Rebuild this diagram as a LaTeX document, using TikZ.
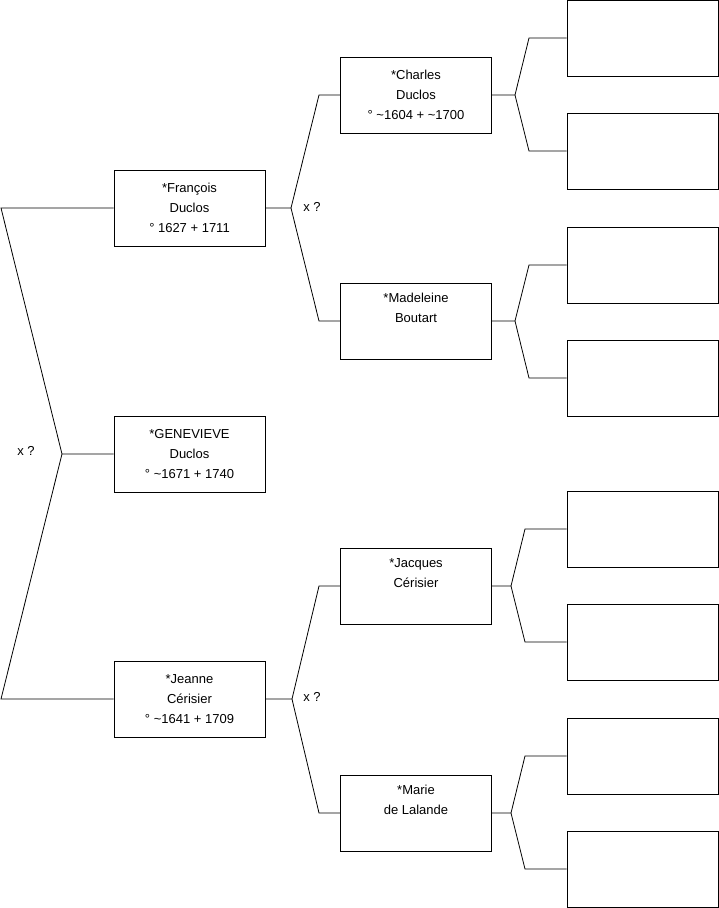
\documentclass[tikz,border=0pt]{standalone}
\usepackage{fontspec}
\setmainfont{Liberation Sans}
\usetikzlibrary{positioning}
\tikzset{
  person/.style={draw, line width=0.9pt, minimum width=151pt, minimum height=76pt,
    align=center, inner sep=0pt, font=\fontsize{13}{20}\selectfont},
  blank/.style={draw, line width=0.9pt, minimum width=151pt, minimum height=76pt, inner sep=0pt},
  link/.style={line width=0.8pt},
  mark label/.style={font=\fontsize{13}{15}\selectfont}
}
\begin{document}
\begin{tikzpicture}[x=1pt, y=-1pt]
  \useasboundingbox (0,0) rectangle (719,908);

  % generation 1
  \node[person] (genevieve) at (189.5,454) {*GENEVIEVE\\Duclos\\° \textasciitilde1671 + 1740};

  % generation 2
  \node[person] (francois) at (189.5,208) {*François\\Duclos\\° 1627 + 1711};
  \node[person] (jeanne) at (189.5,699) {*Jeanne\\Cérisier\\° \textasciitilde1641 + 1709};

  % generation 3
  \node[person] (charles) at (416,95) {*Charles\\Duclos\\° \textasciitilde1604 + \textasciitilde1700};
  \node[person] (madeleine) at (416,321) {*Madeleine\\Boutart\\\strut};
  \node[person] (jacques) at (416,586) {*Jacques\\Cérisier\\\strut};
  \node[person] (marie) at (416,813) {*Marie\\de Lalande\\\strut};

  % generation 4 (empty)
  \node[blank] (e1) at (642.5,38) {};
  \node[blank] (e2) at (642.5,151) {};
  \node[blank] (e3) at (642.5,265) {};
  \node[blank] (e4) at (642.5,378) {};
  \node[blank] (e5) at (642.5,529) {};
  \node[blank] (e6) at (642.5,642) {};
  \node[blank] (e7) at (642.5,756) {};
  \node[blank] (e8) at (642.5,869) {};

  % fork points
  \coordinate (gv) at (62,454);
  \coordinate (g1) at (1,208);
  \coordinate (g2) at (1,699);
  \coordinate (fv) at (291,208);
  \coordinate (f1) at (319,95);
  \coordinate (f2) at (319,321);
  \coordinate (jv) at (292,699);
  \coordinate (j1) at (319,586);
  \coordinate (j2) at (319,813);
  \coordinate (cv) at (515,95);
  \coordinate (c1) at (529,38);
  \coordinate (c2) at (529,151);
  \coordinate (mv) at (515,321);
  \coordinate (m1) at (529,265);
  \coordinate (m2) at (529,378);
  \coordinate (av) at (511,586);
  \coordinate (a1) at (525,529);
  \coordinate (a2) at (525,642);
  \coordinate (dv) at (511,813);
  \coordinate (d1) at (525,756);
  \coordinate (d2) at (525,869);

  % connectors
  \draw[link] (genevieve.west) -- (gv) -- (g1) -- (francois.west);
  \draw[link] (gv) -- (g2) -- (jeanne.west);
  \draw[link] (francois.east) -- (fv) -- (f1) -- (charles.west);
  \draw[link] (fv) -- (f2) -- (madeleine.west);
  \draw[link] (jeanne.east) -- (jv) -- (j1) -- (jacques.west);
  \draw[link] (jv) -- (j2) -- (marie.west);
  \draw[link] (charles.east) -- (cv) -- (c1) -- (e1.west);
  \draw[link] (cv) -- (c2) -- (e2.west);
  \draw[link] (madeleine.east) -- (mv) -- (m1) -- (e3.west);
  \draw[link] (mv) -- (m2) -- (e4.west);
  \draw[link] (jacques.east) -- (av) -- (a1) -- (e5.west);
  \draw[link] (av) -- (a2) -- (e6.west);
  \draw[link] (marie.east) -- (dv) -- (d1) -- (e7.west);
  \draw[link] (dv) -- (d2) -- (e8.west);

  % marriage marks
  \node[mark label] (xg) at (26,451) {x ?};
  \node[mark label] (xf) at (312,207) {x ?};
  \node[mark label] (xj) at (312,697) {x ?};
\end{tikzpicture}
\end{document}
